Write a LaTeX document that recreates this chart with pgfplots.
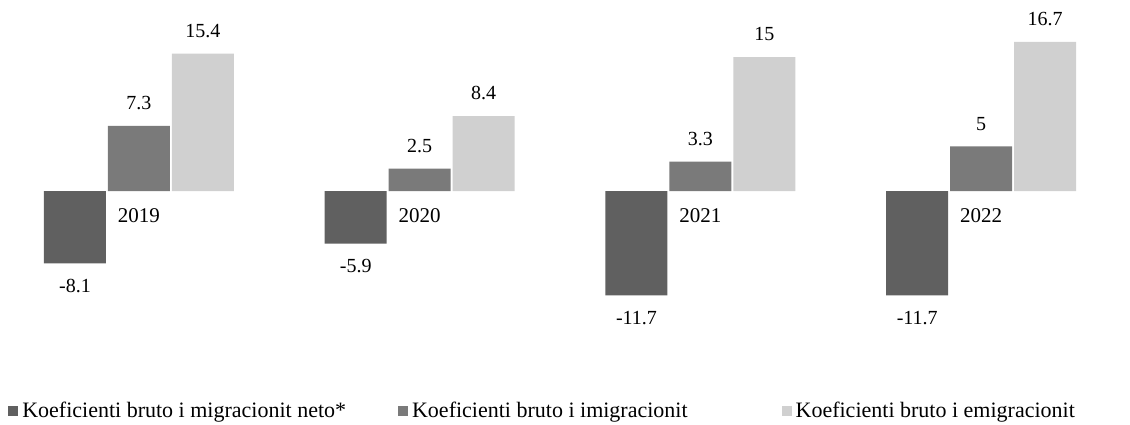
\documentclass[border=0pt]{standalone}
\usepackage{fontspec}
\setmainfont{Liberation Serif}
\usepackage{pgfplots}
\pgfplotsset{compat=1.18}

\definecolor{neto}{RGB}{96,96,96}
\definecolor{imig}{RGB}{122,122,122}
\definecolor{emig}{RGB}{208,208,208}

\begin{document}
\begin{tikzpicture}
\begin{axis}[name=ax, scale only axis, width=565pt, height=212pt,
  xmin=-0.495, xmax=3.53, ymin=-26.1, ymax=21.4,
  axis x line=middle, axis y line=none, x axis line style={draw=none},
  hide obscured x ticks=false,
  xtick={0,1,2,3}, xticklabels={2019,2020,2021,2022}, major tick length=0pt,
  xticklabel style={font=\fontsize{10.5}{12}\selectfont, anchor=north, yshift=-5pt},
  ytick=\empty,
  ybar=0pt, bar width=31pt,
  /pgf/number format/assume math mode=true,
  nodes near coords,
  every node near coord/.append style={font=\fontsize{10}{12}\selectfont, black, inner ysep=2pt, outer ysep=6pt},
  clip=false,
  legend columns=3,
  legend style={draw=none, fill=none, at={(0.007,0.031)}, anchor=west,
    font=\fontsize{11}{13}\selectfont, inner sep=0pt,
    /tikz/every odd column/.append style={column sep=0pt},
    /tikz/every even column/.append style={column sep=24pt}},
  legend image code/.code={\fill[#1] (0pt,-2.5pt) rectangle (5pt,2.5pt);},
]
\addplot[fill=neto, draw=none, bar shift=-32pt] coordinates {(0,-8.1) (1,-5.9) (2,-11.7) (3,-11.7)};
\addlegendentry{Koeficienti bruto i migracionit neto*}
\addplot[fill=imig, draw=none, bar shift=0pt] coordinates {(0,7.3) (1,2.5) (2,3.3) (3,5)};
\addlegendentry{Koeficienti bruto i imigracionit\kern21pt}
\addplot[fill=emig, draw=none, bar shift=32pt] coordinates {(0,15.4) (1,8.4) (2,15) (3,16.7)};
\addlegendentry{Koeficienti bruto i emigracionit}
\end{axis}
\path (ax.south west) (ax.north east);
\end{tikzpicture}
\end{document}
